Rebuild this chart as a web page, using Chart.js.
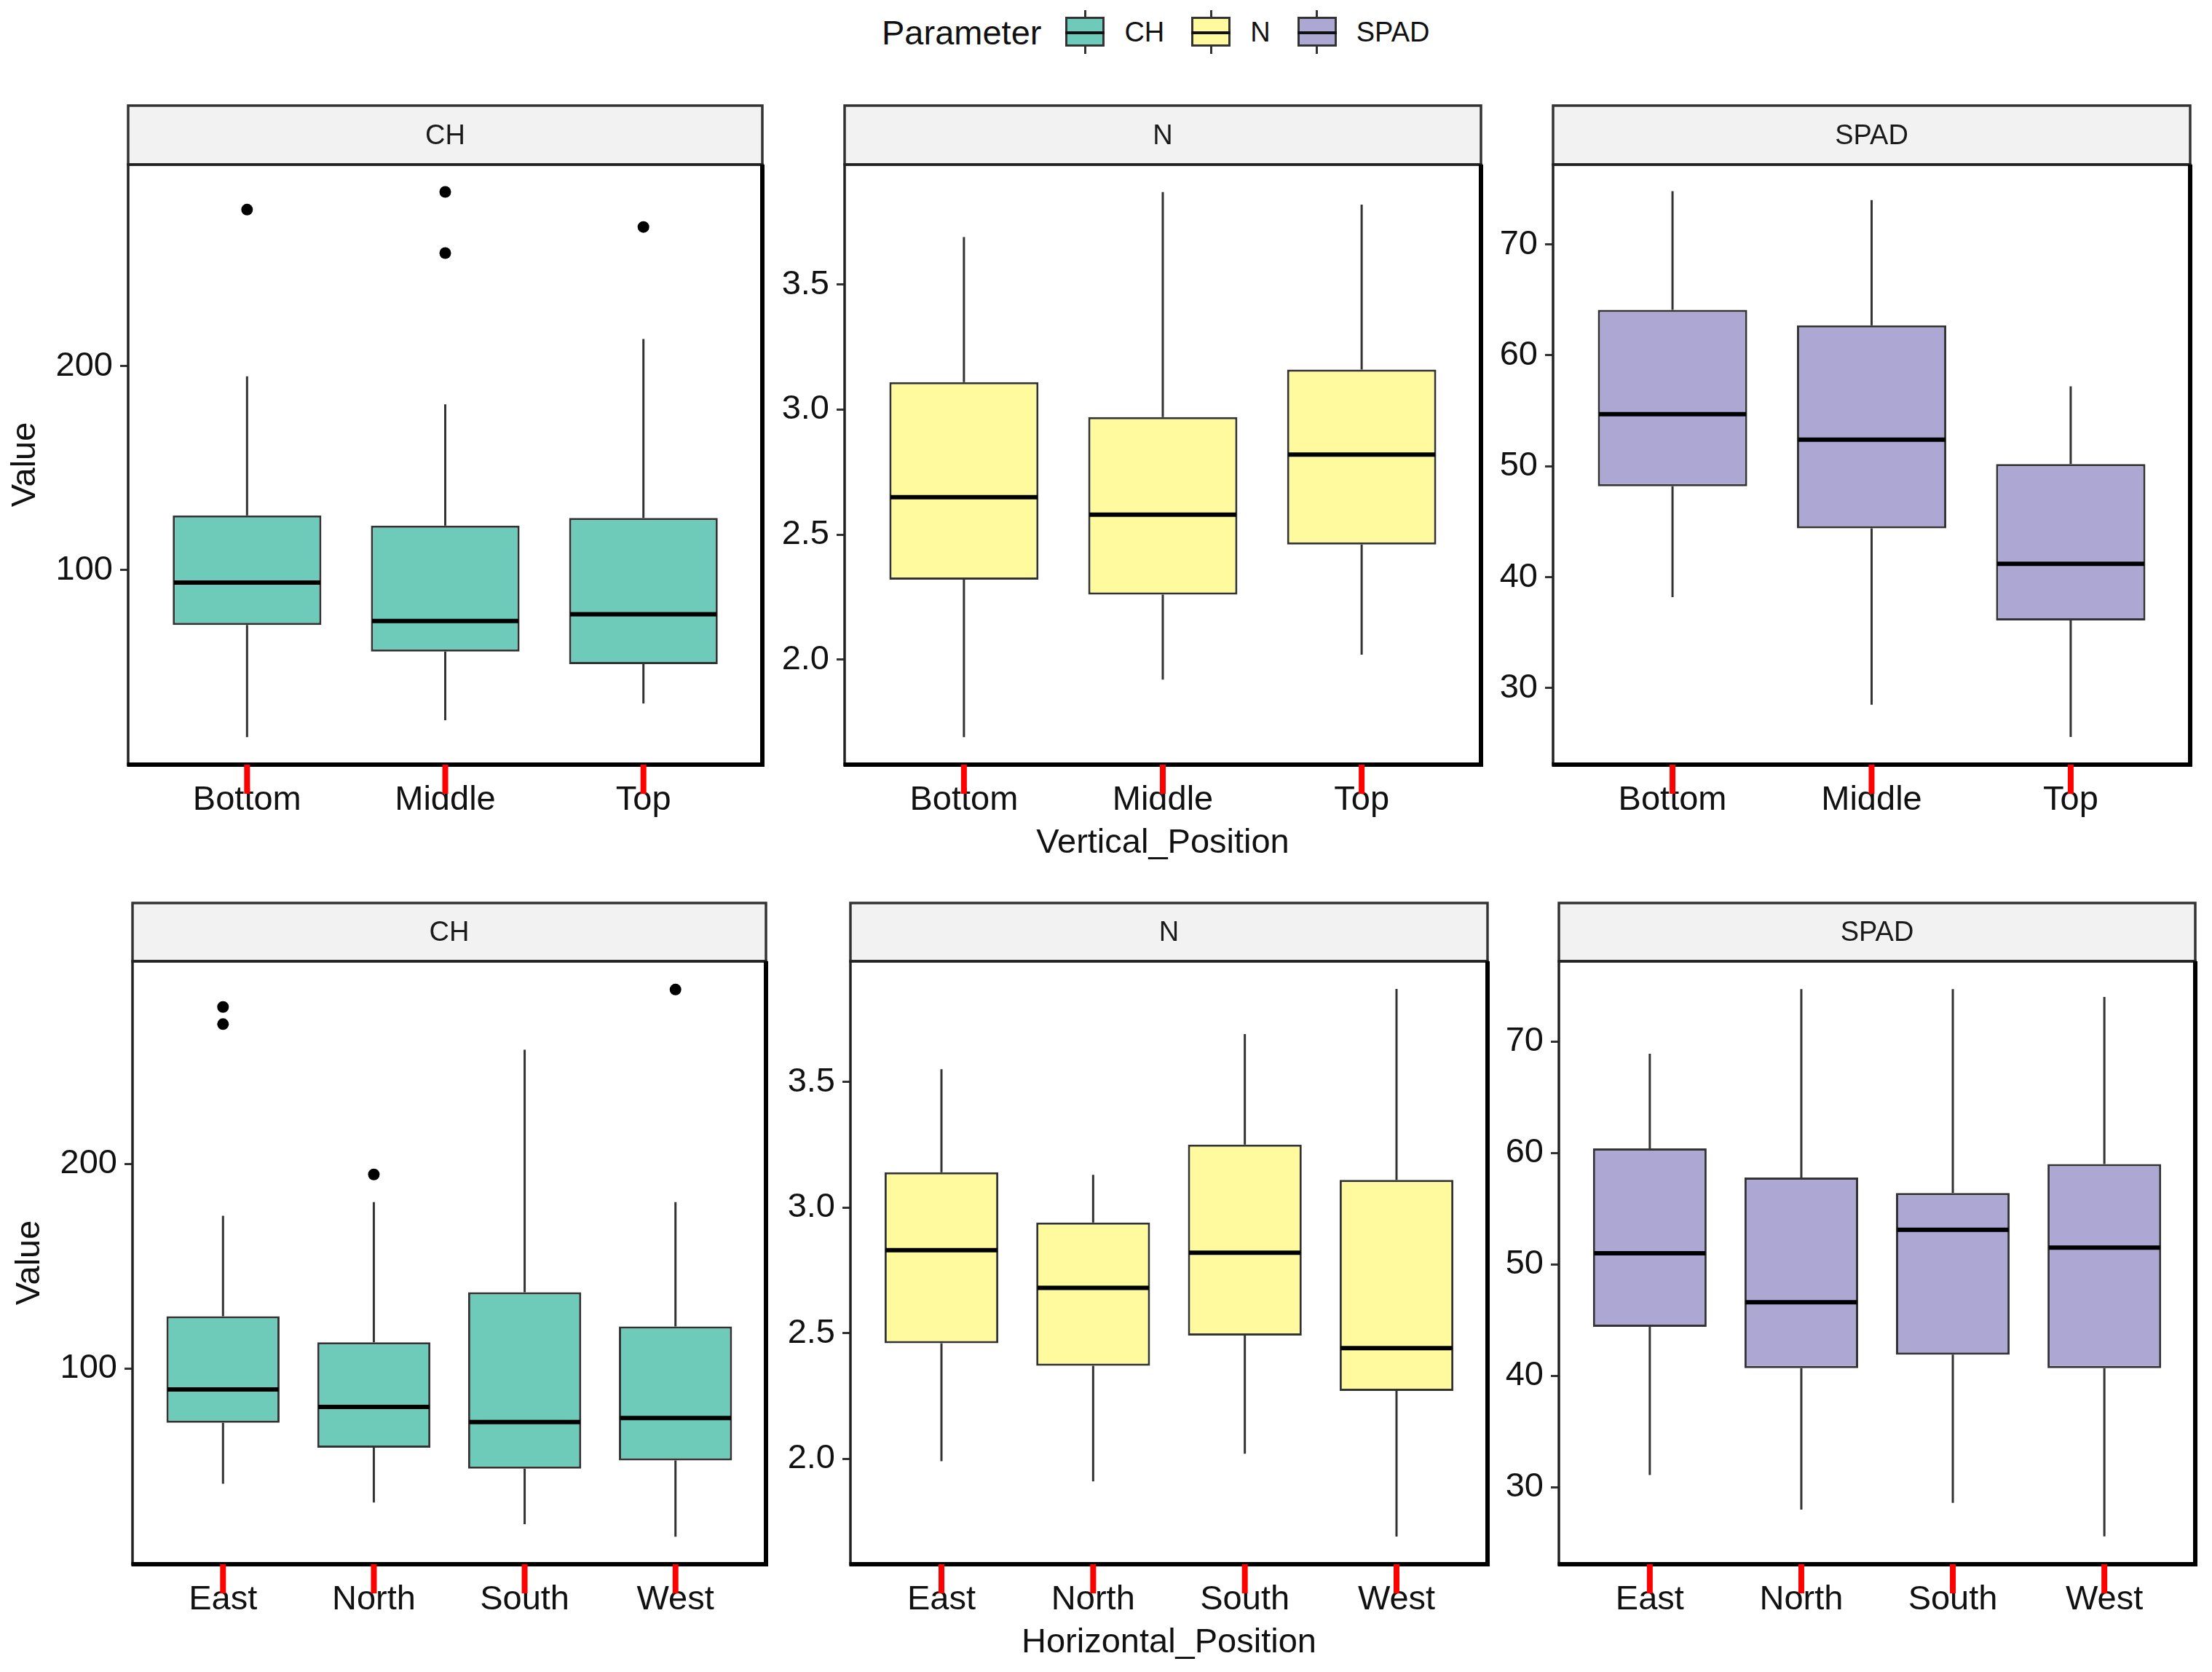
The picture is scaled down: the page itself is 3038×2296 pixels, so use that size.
<!DOCTYPE html>
<html>
<head>
<meta charset="utf-8">
<script src="https://cdn.jsdelivr.net/npm/chart.js@4.4.1/dist/chart.umd.min.js"></script>
<style>
  body { margin: 0; background: #fff; width: 3038px; height: 2296px; position: relative; overflow: hidden;
         font-family: "Liberation Sans", Arial, sans-serif; color: #111; }
  canvas { position: absolute; }
  #legend { position: absolute; left: 1211px; top: 14px; height: 60px; display: flex; align-items: center; }
  #legend .ltitle { font-size: 47px; margin-right: 33px; }
  #legend .key { position: relative; width: 54px; height: 60px; margin-right: 27px; }
  #legend .key i { position: absolute; display: block; }
  #legend .wh { left: 25.5px; top: 0; width: 3px; height: 60px; background: #333; }
  #legend .bx { left: 0; top: 9px; width: 54px; height: 41px; box-sizing: border-box; border: 3px solid #333; }
  #legend .md { left: 0; top: 29px; width: 54px; height: 4px; background: #111; }
  #legend .lab { font-size: 38px; margin-right: 37px; }
</style>
</head>
<body>
<div id="legend"></div>
<script>
// categories
const vertical = ['Bottom', 'Middle', 'Top'];
const horizontal = ['East', 'North', 'South', 'West'];
const params = ['CH', 'N', 'SPAD'];
const colors = ['#6ECBBA', '#FFFA9E', '#ADA8D3'];

// each box: [whisker low, Q1, median, Q3, whisker high]
const chVertical = [
  [18, 73, 93.8, 126.8, 195],
  [26.3, 60, 75, 121.8, 181.3],
  [34.5, 53.8, 78.3, 125.5, 213.3]
];
const chVerticalOut = [[276.8], [285.5, 255.5], [268.3]];
const nVertical = [
  [1.69, 2.32, 2.65, 3.11, 3.69],
  [1.92, 2.26, 2.58, 2.97, 3.87],
  [2.02, 2.46, 2.82, 3.16, 3.82]
];
const spadVertical = [
  [38.2, 48.2, 54.7, 64.1, 74.8],
  [28.5, 44.4, 52.4, 62.7, 74.0],
  [25.6, 36.1, 41.2, 50.2, 57.2]
];
const chHorizontal = [
  [43.8, 73.6, 89.8, 125.6, 174.6],
  [34.6, 61.4, 81.3, 112.9, 181.3],
  [24.1, 51.2, 73.9, 137.3, 255.7],
  [17.9, 55.2, 75.9, 120.6, 181.3]
];
const chHorizontalOut = [[276.6, 268.2], [194.8], [], [285.1]];
const nHorizontal = [
  [1.99, 2.46, 2.83, 3.14, 3.55],
  [1.91, 2.37, 2.68, 2.94, 3.13],
  [2.02, 2.49, 2.82, 3.25, 3.69],
  [1.69, 2.27, 2.44, 3.11, 3.87]
];
const spadHorizontal = [
  [31.1, 44.4, 51.0, 60.4, 68.9],
  [28.0, 40.7, 46.6, 57.8, 74.7],
  [28.6, 41.9, 53.1, 56.4, 74.7],
  [25.6, 40.7, 51.5, 59.0, 74.0]
];

// y axis ticks and limits per parameter
const chTicks = [100, 200];
const nTicks = [2.0, 2.5, 3.0, 3.5];
const spadTicks = [30, 40, 50, 60, 70];
const yRanges = { CH: [4.5, 298.9], N: [1.58, 3.98], SPAD: [23.1, 77.2] };
const yTicks = { CH: chTicks, N: nTicks, SPAD: spadTicks };
const yDigits = { CH: 0, N: 1, SPAD: 0 };

Chart.defaults.font.family = '"Liberation Sans", Arial, sans-serif';
Chart.defaults.color = '#111';

const Y_W = 176;   // y axis band width
const X_H = 145;   // x axis band height

// legend
const legend = document.getElementById('legend');
legend.innerHTML = '<span class="ltitle">Parameter</span>' + params.map((p, i) =>
  '<span class="key"><i class="wh"></i><i class="bx" style="background:' + colors[i] + '"></i><i class="md"></i></span>' +
  '<span class="lab">' + p + '</span>').join('');

const boxExtras = {
  id: 'boxExtras',
  afterDatasetsDraw(chart, args, opts) {
    const { ctx, scales: { x, y } } = chart;
    const hw = (x.getPixelForValue(2) - x.getPixelForValue(1)) * 0.375;
    ctx.save();
    opts.stats.forEach((s, i) => {
      const px = x.getPixelForValue(i + 1);
      ctx.strokeStyle = '#333';
      ctx.lineWidth = 3;
      ctx.beginPath();
      ctx.moveTo(px, y.getPixelForValue(s[0]));
      ctx.lineTo(px, y.getPixelForValue(s[1]));
      ctx.moveTo(px, y.getPixelForValue(s[3]));
      ctx.lineTo(px, y.getPixelForValue(s[4]));
      ctx.stroke();
      const ym = y.getPixelForValue(s[2]);
      ctx.strokeStyle = '#000';
      ctx.lineWidth = 6;
      ctx.beginPath();
      ctx.moveTo(px - hw + 1.5, ym);
      ctx.lineTo(px + hw - 1.5, ym);
      ctx.stroke();
    });
    ctx.restore();
  },
  afterDraw(chart, args, opts) {
    const { ctx, chartArea: a, scales: { x } } = chart;
    ctx.save();
    // strip
    ctx.fillStyle = '#F2F2F2';
    ctx.fillRect(a.left, a.top - opts.stripH, a.width, opts.stripH);
    ctx.strokeStyle = '#333';
    ctx.lineWidth = 3.5;
    ctx.strokeRect(a.left, a.top - opts.stripH, a.width, opts.stripH);
    ctx.fillStyle = '#1a1a1a';
    ctx.font = '38px "Liberation Sans", Arial, sans-serif';
    ctx.textAlign = 'center';
    ctx.textBaseline = 'middle';
    ctx.fillText(opts.strip, (a.left + a.right) / 2, a.top - opts.stripH / 2 + 2);
    // panel border
    ctx.strokeStyle = '#222';
    ctx.lineWidth = 3.5;
    ctx.strokeRect(a.left, a.top, a.width, a.height);
    ctx.strokeStyle = '#000';
    ctx.lineWidth = 6;
    ctx.beginPath();
    ctx.moveTo(a.left - 1.5, a.bottom);
    ctx.lineTo(a.right + 3, a.bottom);
    ctx.moveTo(a.right, a.top);
    ctx.lineTo(a.right, a.bottom);
    ctx.stroke();
    // x tick marks at the category positions
    ctx.fillStyle = '#ff0000';
    for (let i = 0; i < opts.stats.length; i++) {
      const px = x.getPixelForValue(i + 1);
      ctx.fillRect(px - 4, a.bottom, 8, 40);
    }
    ctx.restore();
  }
};

const panels = [
  { cats: vertical, stats: chVertical, out: chVerticalOut, param: 'CH', col: 0, L: 176, R: 1047, S: 145, T: 226, B: 1050 },
  { cats: vertical, stats: nVertical, out: [], param: 'N', col: 1, L: 1160, R: 2034, S: 145, T: 226, B: 1050, xTitle: 'Vertical_Position' },
  { cats: vertical, stats: spadVertical, out: [], param: 'SPAD', col: 2, L: 2133, R: 3008, S: 145, T: 226, B: 1050 },
  { cats: horizontal, stats: chHorizontal, out: chHorizontalOut, param: 'CH', col: 0, L: 182, R: 1052, S: 1240, T: 1320, B: 2148 },
  { cats: horizontal, stats: nHorizontal, out: [], param: 'N', col: 1, L: 1168, R: 2043, S: 1240, T: 1320, B: 2148, xTitle: 'Horizontal_Position' },
  { cats: horizontal, stats: spadHorizontal, out: [], param: 'SPAD', col: 2, L: 2141, R: 3015, S: 1240, T: 1320, B: 2148 }
];

function makePanel(p) {
  const canvas = document.createElement('canvas');
  const cx = p.L - Y_W, cy = p.S - 5;
  const w = p.R - p.L + Y_W + 12, h = p.B - cy + X_H;
  canvas.width = w;
  canvas.height = h;
  canvas.style.left = cx + 'px';
  canvas.style.top = cy + 'px';
  canvas.style.width = w + 'px';
  canvas.style.height = h + 'px';
  document.body.appendChild(canvas);

  const n = p.cats.length;
  const color = colors[params.indexOf(p.param)];
  const points = [];
  p.out.forEach((vals, i) => vals.forEach(v => points.push({ x: i + 1, y: v })));
  const ticks = yTicks[p.param];

  new Chart(canvas, {
    type: 'bar',
    data: {
      datasets: [
        {
          type: 'bar',
          data: p.stats.map((s, i) => ({ x: i + 1, y: [s[1], s[3]] })),
          backgroundColor: color,
          borderColor: '#333',
          borderWidth: 3,
          borderSkipped: false,
          barPercentage: 0.75,
          categoryPercentage: 1,
          order: 2
        },
        {
          type: 'scatter',
          data: points,
          pointRadius: 8,
          backgroundColor: '#000',
          borderWidth: 0,
          order: 1
        }
      ]
    },
    options: {
      responsive: false,
      animation: false,
      devicePixelRatio: 1,
      events: [],
      layout: { padding: { top: p.T - cy, right: 12, left: 0, bottom: 0 } },
      plugins: {
        legend: { display: false },
        tooltip: { enabled: false },
        boxExtras: { stats: p.stats, strip: p.param, stripH: p.T - p.S }
      },
      scales: {
        x: {
          type: 'linear',
          min: 0.4,
          max: n + 0.6,
          offset: false,
          bounds: 'data',
          afterBuildTicks: s => { s.ticks = p.cats.map((c, i) => ({ value: i + 1 })); },
          afterFit: s => { s.height = X_H; },
          ticks: {
            callback: v => p.cats[v - 1],
            font: { size: 47 },
            color: '#111',
            padding: 10,
            autoSkip: false,
            maxRotation: 0
          },
          grid: { display: false, drawTicks: true, tickLength: 11 },
          border: { display: false },
          title: { display: !!p.xTitle, text: p.xTitle || '', font: { size: 47 }, color: '#111', padding: { top: 0, bottom: 9 } }
        },
        y: {
          type: 'linear',
          min: yRanges[p.param][0],
          max: yRanges[p.param][1],
          bounds: 'data',
          afterBuildTicks: s => { s.ticks = ticks.map(v => ({ value: v })); },
          afterFit: s => { s.width = Y_W; },
          ticks: {
            callback: v => v.toFixed(yDigits[p.param]),
            font: { size: 47 },
            color: '#111',
            padding: 10
          },
          grid: { display: true, offset: false, drawOnChartArea: false, drawTicks: true, tickLength: 11, tickColor: '#333', tickWidth: 3 },
          border: { display: false },
          title: { display: p.col === 0, text: 'Value', font: { size: 47 }, color: '#111', padding: { top: 7, bottom: 0 } }
        }
      }
    },
    plugins: [boxExtras]
  });
}

panels.forEach(makePanel);
</script>
</body>
</html>
